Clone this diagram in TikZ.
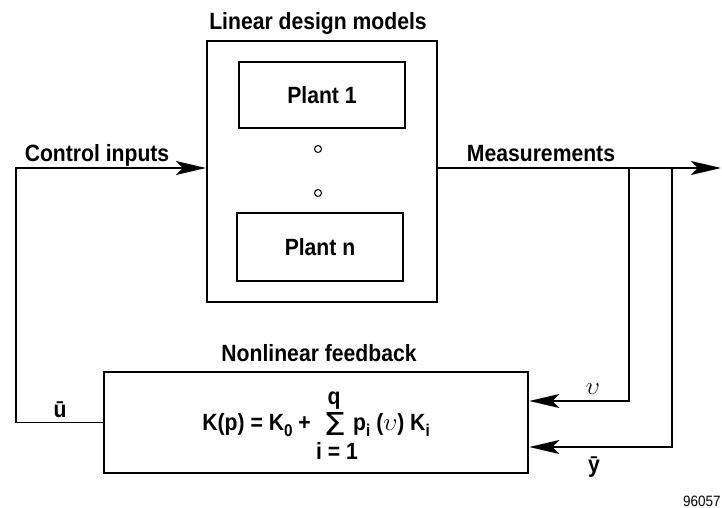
\documentclass[tikz,border=0pt]{standalone}
\usepackage{graphicx}
\usepackage{fontspec}
\setmainfont{Liberation Sans}[FakeStretch=0.9]
\newfontfamily\sigfont{DejaVu Sans}
\usetikzlibrary{arrows.meta}
\newcommand{\lsub}[1]{\raisebox{-6pt}{\fontsize{17}{17}\selectfont #1}}
\newcommand{\upsl}{{\fontsize{30}{30}\selectfont\mdseries$\upsilon$}}
\begin{document}
\begin{tikzpicture}[x=1pt,y=-1pt,
  every node/.style={font=\fontsize{23.5}{27}\selectfont\bfseries, inner sep=0pt},
  blk/.style={draw, line width=2.2pt},
  wire/.style={line width=1.4pt},
  arr/.style={wire, -{Stealth[length=30pt,width=14pt,inset=7pt]}},
  dot/.style={circle, draw, line width=1pt, minimum size=7pt},
  lbl/.style={anchor=base},
]
\useasboundingbox (0,0) rectangle (722,508);
% boxes
\node[blk, minimum width=230pt, minimum height=261pt] (lin) at (322,171.5) {};
\node[blk, minimum width=166pt, minimum height=66pt] (p1) at (322,95) {Plant 1};
\node[blk, minimum width=166pt, minimum height=68pt] (pn) at (320,247) {Plant n};
\node[dot] (d1) at (318,149) {};
\node[dot] (d2) at (318,193) {};
\node[blk, line width=2.6pt, minimum width=424pt, minimum height=101pt] (fb) at (316,422.5) {};
% labels
\node[lbl] (tlin) at (318,30) {Linear design models};
\node[lbl] (tci) at (97,161) {Control inputs};
\node[lbl] (tms) at (541,161) {Measurements};
\node[lbl] (tnf) at (319,361) {Nonlinear feedback};
\node[lbl] (tu) at (60,417) {\=u};
\node[lbl] (tv) at (593,394) {\upsl};
\node[lbl] (ty) at (594,472) {\=y};
% formula
\node[anchor=base east] (f1) at (311,430) {K(p) = K\lsub{0} +};
\node[anchor=base] (sg) at (335,435) {\resizebox{23pt}{23pt}{\sigfont\mdseries Σ}};
\node[anchor=base west] (f2) at (353,430) {p\lsub{i} (\upsl) K\lsub{i}};
\node[lbl] (fq) at (334,404) {q};
\node[lbl] (fi) at (337,459) {i = 1};
\node[anchor=base west, font=\fontsize{15}{17}\selectfont] (id) at (683,506) {96057};
% wires
\coordinate (tl) at (16,168);
\coordinate (tr) at (721,168);
\coordinate (b1) at (629,168);
\coordinate (b2) at (672,168);
\draw[arr] (fb.west) -| (tl) -- (tl -| lin.west);
\draw[arr] (tl -| lin.east) -- (tr);
\draw[arr] (b1) |- ([yshift=21.5pt]fb.east);
\draw[arr] (b2) |- ([yshift=-24.5pt]fb.east);
\end{tikzpicture}
\end{document}
